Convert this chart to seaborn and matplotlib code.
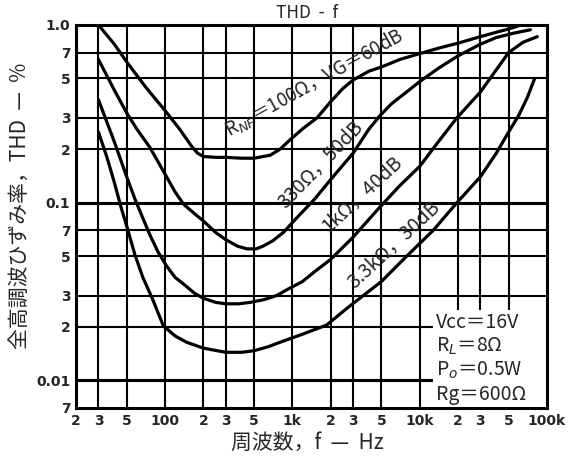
import pandas as pd
import numpy as np
import matplotlib
matplotlib.use('Agg')
import matplotlib.pyplot as plt
from matplotlib.ticker import FixedLocator, NullLocator
from matplotlib.patches import Rectangle
import seaborn as sns

# THD (%) vs frequency (Hz), one curve per gain setting
f_60db = [30, 40, 50, 70, 100, 130, 160, 180, 200, 250, 300, 400, 500, 670, 800, 960, 1200, 1560,
          2000, 2500, 3000, 4000, 5000, 7000, 10700, 15000, 20000, 30000, 40000, 50000, 60000]
thd_60db = [1.0, 0.78, 0.62, 0.45, 0.33, 0.26, 0.21, 0.19, 0.182, 0.18, 0.18, 0.178, 0.178, 0.185, 0.2,
            0.226, 0.26, 0.3, 0.37, 0.44, 0.49, 0.55, 0.58, 0.64, 0.7, 0.75, 0.79, 0.86, 0.91, 0.95, 0.99]

f_50db = [30, 40, 50, 60, 76, 100, 120, 140, 170, 200, 250, 300, 370, 440, 520, 590, 700, 850, 1080,
          1500, 2000, 3000, 4000, 4900, 6000, 7900, 10000, 14000, 20000, 30000, 40000, 55000, 74000]
thd_50db = [0.64, 0.43, 0.32, 0.26, 0.205, 0.145, 0.115, 0.098, 0.087, 0.079, 0.068, 0.062, 0.057, 0.055,
            0.055, 0.057, 0.061, 0.068, 0.082, 0.105, 0.135, 0.19, 0.26, 0.31, 0.36, 0.42, 0.48, 0.57,
            0.67, 0.78, 0.85, 0.9, 0.94]

f_40db = [30, 40, 50, 58, 66, 76, 88, 103, 120, 139, 170, 200, 250, 300, 380, 466, 600, 750, 950, 1200,
          1500, 2000, 3000, 4900, 7000, 10000, 14000, 19600, 30000, 40000, 50000, 65000, 84000]
thd_40db = [0.38, 0.22, 0.14, 0.105, 0.084, 0.066, 0.053, 0.044, 0.038, 0.035, 0.031, 0.029, 0.0275, 0.027,
            0.027, 0.0275, 0.0285, 0.030, 0.033, 0.036, 0.041, 0.048, 0.064, 0.095, 0.125, 0.16, 0.22,
            0.3, 0.42, 0.56, 0.7, 0.8, 0.86]

f_30db = [30, 35, 40, 45, 50, 58, 67, 80, 97, 120, 148, 200, 300, 400, 500, 650, 800, 1200, 1860, 2600,
          3600, 5000, 7900, 12800, 19600, 30000, 40000, 50000, 60000, 70000, 80000]
thd_30db = [0.25, 0.18, 0.13, 0.095, 0.074, 0.051, 0.038, 0.0286, 0.0203, 0.0178, 0.0164, 0.0152, 0.0144,
            0.0144, 0.0147, 0.0155, 0.0164, 0.0182, 0.0205, 0.025, 0.03, 0.036, 0.05, 0.07, 0.1, 0.14,
            0.19, 0.25, 0.31, 0.39, 0.5]

curve_labels = [r'R$_{NF}$＝100Ω，VG＝60dB', '330Ω，50dB', '1kΩ，40dB', '3.3kΩ，30dB']
label_pos = [(1500, 0.47, 29), (1650, 0.165, 46), (3500, 0.112, 43), (6200, 0.058, 43)]
label_size = [13.5, 14, 14, 14]

x_ticks = [20, 30, 50, 100, 200, 300, 500, 1000, 2000, 3000, 5000, 10000, 20000, 30000, 50000, 100000]
x_ticklabels = ['2', '3', '5', '100', '2', '3', '5', '1k', '2', '3', '5', '10k', '2', '3', '5', '100k']
y_ticks = [1.0, 0.7, 0.5, 0.3, 0.2, 0.1, 0.07, 0.05, 0.03, 0.02, 0.01, 0.007]
y_ticklabels = ['1.0', '7', '5', '3', '2', '0.1', '7', '5', '3', '2', '0.01', '7']

conditions = ['Vcc＝16V', r'R$_L$＝8Ω', r'P$_o$＝0.5W', 'Rg＝600Ω']

df = pd.concat([
    pd.DataFrame({'f': f_60db, 'thd': thd_60db, 'curve': '60dB'}),
    pd.DataFrame({'f': f_50db, 'thd': thd_50db, 'curve': '50dB'}),
    pd.DataFrame({'f': f_40db, 'thd': thd_40db, 'curve': '40dB'}),
    pd.DataFrame({'f': f_30db, 'thd': thd_30db, 'curve': '30dB'}),
], ignore_index=True)

sns.set_style('white')
plt.rcParams['font.family'] = ['Noto Sans CJK JP', 'DejaVu Sans']
plt.rcParams['mathtext.fontset'] = 'dejavusans'

fig = plt.figure(figsize=(5.69, 4.62), dpi=100)
ax = fig.add_axes([0.1336, 0.1169, 0.8277, 0.829])

sns.lineplot(data=df, x='f', y='thd', units='curve', estimator=None, sort=False,
             color='black', lw=2.3, ax=ax, zorder=3)

ax.set_xscale('log')
ax.set_yscale('log')
ax.set_xlim(20, 100000)
ax.set_ylim(0.007, 1.0)

# grid drawn by hand so the heavy decade lines can be thicker
for x in x_ticks[1:-1]:
    ax.axvline(x, color='black', lw=1.5, zorder=1)
for y in y_ticks[1:-1]:
    ax.axhline(y, color='black', lw=2.2 if y in (0.1, 0.01) else 1.5, zorder=1)

ax.xaxis.set_major_locator(FixedLocator(x_ticks))
ax.xaxis.set_minor_locator(NullLocator())
ax.yaxis.set_major_locator(FixedLocator(y_ticks))
ax.yaxis.set_minor_locator(NullLocator())
ax.set_xticklabels(x_ticklabels, fontsize=10, fontweight='bold', family='DejaVu Sans')
ax.set_yticklabels(y_ticklabels, fontsize=10, fontweight='bold', family='DejaVu Sans')
ax.tick_params(length=0, pad=4)
ax.set_xlabel('')
ax.set_ylabel('')

for spine in ax.spines.values():
    spine.set_visible(True)
    spine.set_color('black')
    spine.set_linewidth(2.2)

for text, (fx, ty, rot), size in zip(curve_labels, label_pos, label_size):
    ax.text(fx, ty, text, rotation=rot, rotation_mode='anchor', ha='center', va='center',
            fontsize=size, zorder=4)

# condition block in the lower-right corner
ax.add_patch(Rectangle((0.758, 0.0), 0.242, 0.256, transform=ax.transAxes,
                       facecolor='white', edgecolor='none', zorder=2))
for i, line in enumerate(conditions):
    ax.text(0.765, 0.224 - i * 0.063, line, transform=ax.transAxes, ha='left', va='center',
            fontsize=14, zorder=4)

fig.text(0.54, 0.972, 'THD  -  f', ha='center', va='center', fontsize=12.5)
fig.text(0.54, 0.041, '周波数，f  —  Hz', ha='center', va='center', fontsize=15)
fig.text(0.035, 0.554, '全高調波ひずみ率，THD  —  %', ha='center', va='center', rotation=90, fontsize=15)

fig.savefig('out.png', dpi=100)
